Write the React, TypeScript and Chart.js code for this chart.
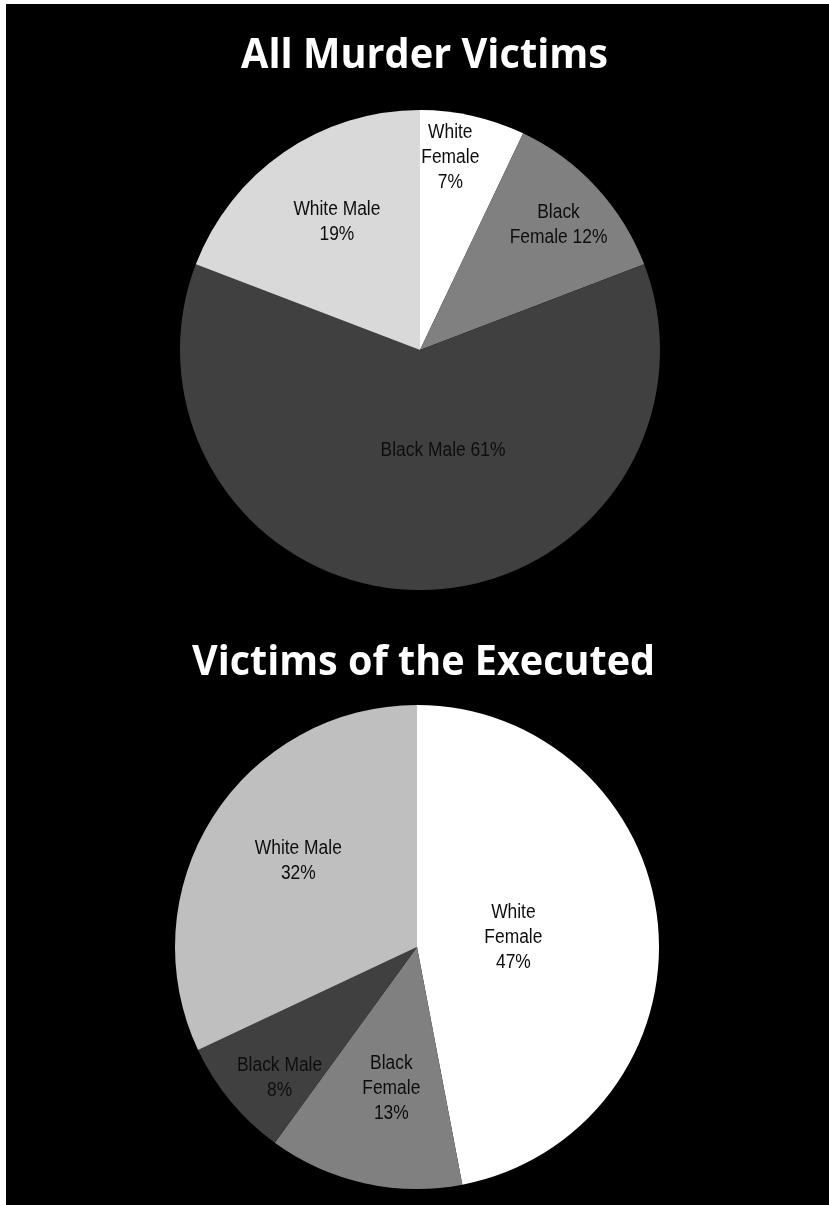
import React, { useEffect, useRef } from "react";
import { Chart, registerables } from "chart.js";

Chart.register(...registerables);

// ---- data ----
const categories = ["White Female", "Black Female", "Black Male", "White Male"];
const allVictimsPct = [7, 12, 61, 19];
const executedVictimsPct = [47, 13, 8, 32];
const chartTitles = ["All Murder Victims", "Victims of the Executed"];
const allVictimsLabelFormat = ["White\nFemale\n{p}%", "Black\nFemale {p}%", "Black Male {p}%", "White Male\n{p}%"];
const executedLabelFormat = ["White\nFemale\n{p}%", "Black\nFemale\n{p}%", "Black Male\n{p}%", "White Male\n{p}%"];

// ---- styles ----
const allColors = ["#ffffff", "#808080", "#404040", "#d9d9d9"];
const executedColors = ["#ffffff", "#808080", "#404040", "#bfbfbf"];

type PieCfg = {
  title: string;
  values: number[];
  colors: string[];
  formats: string[];
  width: number;
  height: number;
  padding: { left: number; top: number; right: number; bottom: number };
  titleX: number;
  titleBaseline: number;
  titleWidth: number;
  labelFrac: number[];
  labelShift: number[][];
};

const sliceLabelPlugin = {
  id: "sliceLabels",
  afterDraw(chart: any) {
    const cfg: PieCfg = chart.options.plugins.sliceLabels.cfg;
    const ctx = chart.ctx as CanvasRenderingContext2D;
    // title
    ctx.save();
    ctx.font = "bold 41px 'Open Sans', sans-serif";
    ctx.fillStyle = "#ffffff";
    ctx.textAlign = "center";
    ctx.textBaseline = "alphabetic";
    const tw = ctx.measureText(cfg.title).width;
    ctx.translate(cfg.titleX, cfg.titleBaseline);
    ctx.scale(cfg.titleWidth / tw, 1);
    ctx.fillText(cfg.title, 0, 0);
    ctx.restore();

    // slice labels
    const meta = chart.getDatasetMeta(0);
    const data = chart.data.datasets[0].data as number[];
    ctx.save();
    ctx.font = "20px 'Liberation Sans', Arial, sans-serif";
    ctx.fillStyle = "#0d0d0d";
    ctx.textAlign = "center";
    ctx.textBaseline = "middle";
    meta.data.forEach((arc: any, i: number) => {
      const p = arc.getProps(["x", "y", "startAngle", "endAngle", "outerRadius"], true);
      const mid = (p.startAngle + p.endAngle) / 2;
      const r = p.outerRadius * cfg.labelFrac[i];
      const cx = p.x + Math.cos(mid) * r + cfg.labelShift[i][0];
      const cy = p.y + Math.sin(mid) * r + cfg.labelShift[i][1];
      const lines = cfg.formats[i].replace("{p}", String(data[i])).split("\n");
      const lh = 25;
      const y0 = cy - ((lines.length - 1) * lh) / 2;
      lines.forEach((ln, k) => {
        ctx.save();
        ctx.translate(cx, y0 + k * lh);
        ctx.scale(0.87, 1);
        ctx.fillText(ln, 0, 0);
        ctx.restore();
      });
    });
    ctx.restore();
  },
};

function PieChart({ cfg, style }: { cfg: PieCfg; style: React.CSSProperties }) {
  const ref = useRef<HTMLCanvasElement>(null);
  useEffect(() => {
    if (!ref.current) return;
    const chart = new Chart(ref.current, {
      type: "pie",
      data: {
        labels: categories,
        datasets: [
          {
            data: cfg.values,
            backgroundColor: cfg.colors,
            borderWidth: 0,
            hoverBorderWidth: 0,
            offset: 0,
            hoverOffset: 0,
          } as any,
        ],
      },
      options: {
        responsive: false,
        animation: false,
        events: [],
        layout: { padding: cfg.padding },
        plugins: {
          legend: { display: false },
          tooltip: { enabled: false },
          title: { display: false },
          sliceLabels: { cfg },
        } as any,
      },
      plugins: [sliceLabelPlugin],
    });
    return () => chart.destroy();
  }, [cfg]);
  return <canvas ref={ref} width={cfg.width} height={cfg.height} style={{ position: "absolute", display: "block", ...style }} />;
}

const topCfg: PieCfg = {
  title: chartTitles[0],
  values: allVictimsPct,
  colors: allColors,
  formats: allVictimsLabelFormat,
  width: 823,
  height: 620,
  padding: { left: 174, top: 106, right: 169, bottom: 34 },
  titleX: 418.5,
  titleBaseline: 64,
  titleWidth: 367,
  labelFrac: [0.8, 0.78, 0.42, 0.64],
  labelShift: [
    [-12, -5],
    [1, 2],
    [23, 0],
    [4, -1],
  ],
};

const bottomCfg: PieCfg = {
  title: chartTitles[1],
  values: executedVictimsPct,
  colors: executedColors,
  formats: executedLabelFormat,
  width: 823,
  height: 581,
  padding: { left: 169, top: 81, right: 170, bottom: 16 },
  titleX: 417.5,
  titleBaseline: 51,
  titleWidth: 463,
  labelFrac: [0.4, 0.6, 0.78, 0.62],
  labelShift: [
    [0, 0],
    [6, 0],
    [8, 11],
    [8, -6],
  ],
};

export default function App() {
  return (
    <div
      style={{
        position: "absolute",
        left: 6,
        top: 4,
        width: 823,
        height: 1201,
        background: "#000000",
        overflow: "hidden",
      }}
    >
      <PieChart cfg={topCfg} style={{ left: 0, top: 0 }} />
      <PieChart cfg={bottomCfg} style={{ left: 0, top: 620 }} />
    </div>
  );
}
